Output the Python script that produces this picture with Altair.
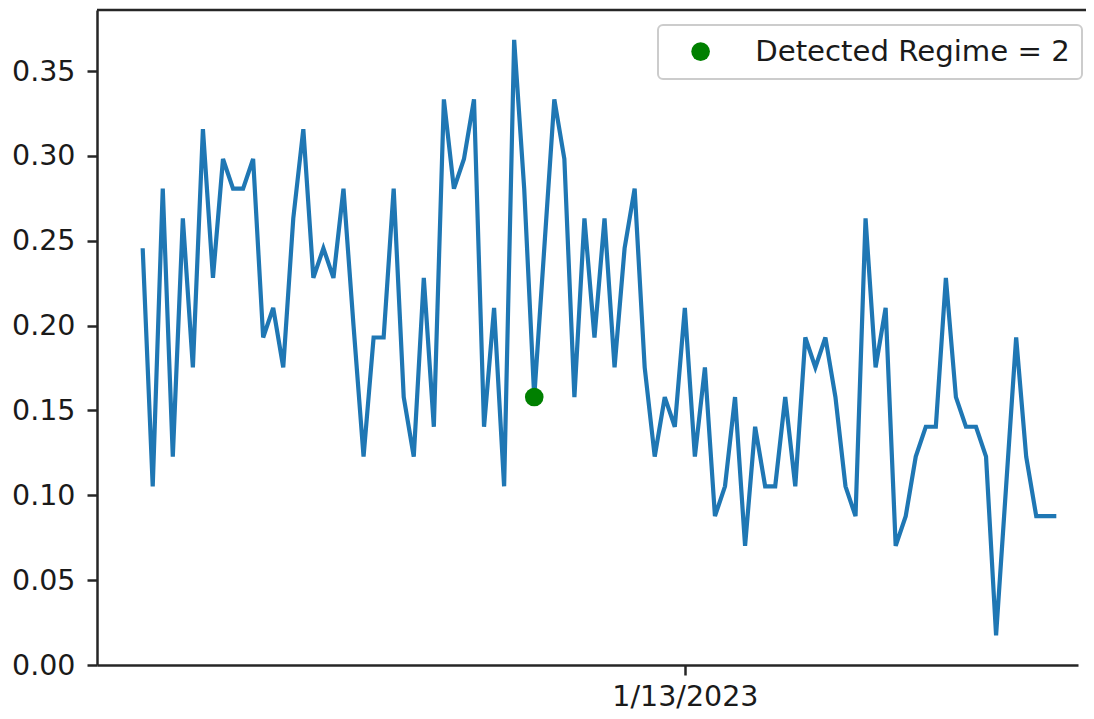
import altair as alt
import pandas as pd

# ---- data ----
dates = list(pd.date_range("2022-11-20", periods=92, freq="D").strftime("%Y-%m-%d"))
values = [
    0.2456, 0.1053, 0.2807, 0.1228, 0.2632, 0.1754, 0.3158, 0.2281, 0.2982, 0.2807,
    0.2807, 0.2982, 0.1930, 0.2105, 0.1754, 0.2632, 0.3158, 0.2281, 0.2456, 0.2281,
    0.2807, 0.2000, 0.1228, 0.1930, 0.1930, 0.2807, 0.1579, 0.1228, 0.2281, 0.1404,
    0.3333, 0.2807, 0.2982, 0.3333, 0.1404, 0.2105, 0.1053, 0.3684, 0.2807, 0.1579,
    0.2456, 0.3333, 0.2982, 0.1579, 0.2632, 0.1930, 0.2632, 0.1754, 0.2456, 0.2807,
    0.1754, 0.1228, 0.1579, 0.1404, 0.2105, 0.1228, 0.1754, 0.0877, 0.1053, 0.1579,
    0.0702, 0.1404, 0.1053, 0.1053, 0.1579, 0.1053, 0.1930, 0.1754, 0.1930, 0.1579,
    0.1053, 0.0877, 0.2632, 0.1754, 0.2105, 0.0702, 0.0877, 0.1228, 0.1404, 0.1404,
    0.2281, 0.1579, 0.1404, 0.1404, 0.1228, 0.0175, 0.1053, 0.1930, 0.1228, 0.0877,
    0.0877, 0.0877,
]
regime_dates = ["2022-12-29"]
regime_values = [0.1579]
regime_labels = ["Detected Regime = 2"]
y_ticks = [0.0, 0.05, 0.10, 0.15, 0.20, 0.25, 0.30, 0.35]

series = pd.DataFrame({"date": dates, "value": values})
regime = pd.DataFrame({"date": regime_dates, "value": regime_values, "label": regime_labels})

W, H = 981, 655
PAD_R = 8
FONT = "DejaVu Sans"
INK = "#262626"

x_scale = alt.Scale(
    type="utc",
    domain=[
        alt.DateTime(year=2022, month=11, date=15, hours=10, minutes=48, utc=True),
        alt.DateTime(year=2023, month=2, date=21, hours=3, minutes=50, utc=True),
    ],
)
y_scale = alt.Scale(domain=[0, 0.386], nice=False, zero=False)

x_axis = alt.Axis(
    values=[alt.DateTime(year=2023, month=1, date=13, utc=True)],
    labelExpr="utcFormat(datum.value, '%-m/%-d/%Y')",
    labelPadding=7,
    title=None,
)
y_axis = alt.Axis(values=y_ticks, format=".2f", labelPadding=12, title=None)

line = alt.Chart(series).mark_line(color="#1f77b4", strokeWidth=4.2).encode(
    x=alt.X("date:T", scale=x_scale, axis=x_axis),
    y=alt.Y("value:Q", scale=y_scale, axis=y_axis),
)

dot = alt.Chart(regime).mark_circle(size=346, opacity=1).encode(
    x=alt.X("date:T", scale=x_scale, axis=x_axis),
    y=alt.Y("value:Q", scale=y_scale, axis=y_axis),
    color=alt.Color(
        "label:N",
        scale=alt.Scale(domain=regime_labels, range=["green"]),
        legend=alt.Legend(
            title=None,
            orient="none",
            legendX=561,
            legendY=15,
            padding=12,
            symbolOffset=16,
            labelOffset=40,
            labelLimit=0,
            symbolSize=346,
            symbolType="circle",
            symbolStrokeWidth=0,
            strokeColor="#cccccc",
            fillColor="white",
            cornerRadius=5,
        ),
    ),
)

spine_df = pd.DataFrame({"s": [0]})
top_spine = alt.Chart(spine_df).mark_rule(color=INK, strokeWidth=2.5).encode(
    x=alt.value(0), x2=alt.value(W + PAD_R), y=alt.value(0)
)

chart = (
    alt.layer(line, dot, top_spine)
    .properties(
        width=W,
        height=H,
        autosize=alt.AutoSizeParams(type="none"),
        padding={"left": 89, "top": 2, "right": PAD_R, "bottom": 46},
    )
    .configure_view(stroke=None)
    .configure_axis(
        domainColor=INK,
        domainWidth=2.5,
        tickColor=INK,
        tickWidth=2.5,
        tickSize=10,
        labelFont=FONT,
        labelFontSize=28.5,
        labelColor="#1a1a1a",
        grid=False,
    )
    .configure_legend(
        labelFont=FONT,
        labelFontSize=29.2,
        labelColor="#1a1a1a",
        strokeWidth=2,
    )
)

chart.save("out.html", embed_options={"renderer": "svg", "actions": False})
